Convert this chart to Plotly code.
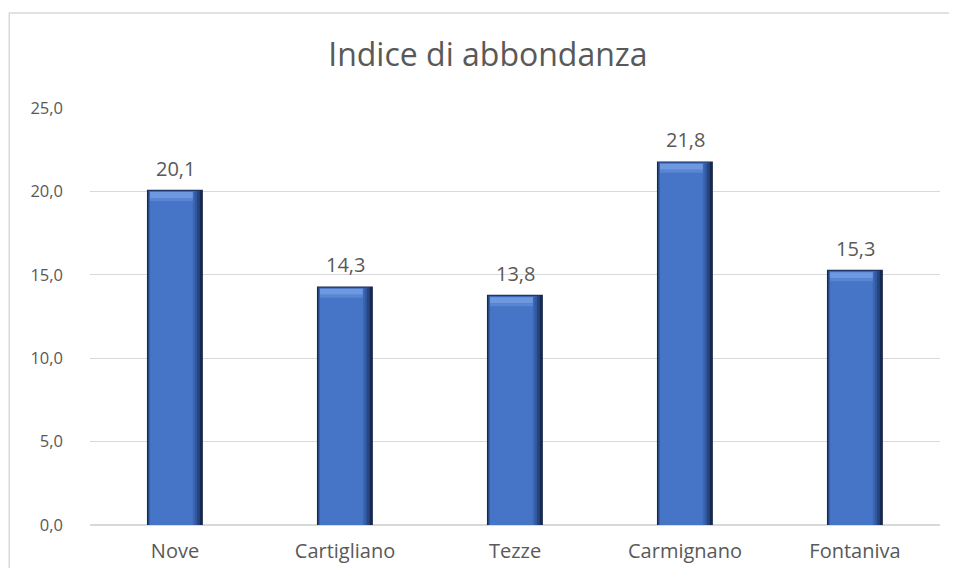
import plotly.graph_objects as go

categories = ["Nove", "Cartigliano", "Tezze", "Carmignano", "Fontaniva"]
values = [20.1, 14.3, 13.8, 21.8, 15.3]
y_ticks = [0, 5, 10, 15, 20, 25]

FONT = "Open Sans, sans-serif"
GRAY = "#595959"

fig = go.Figure()

# bevelled bar look built from overlaid layers (colour, left offset, width, top inset)
layers = [
    ("#18294f", -0.165, 0.329, 0.00),
    ("#27467f", -0.159, 0.305, 0.04),
    ("#3459a0", -0.153, 0.282, 0.07),
    ("#3d67b6", -0.150, 0.266, 0.09),
    ("#4674c6", -0.147, 0.252, 0.11),
]
for color, off, w, inset in layers:
    fig.add_trace(go.Bar(x=categories, y=[v - inset for v in values], width=w, offset=off,
                         marker=dict(color=color, line=dict(width=0)), hoverinfo="skip"))
# top highlight bevel
fig.add_trace(go.Bar(x=categories, y=[0.36] * len(values), base=[v - 0.5 for v in values],
                     width=0.252, offset=-0.147,
                     marker=dict(color="#6e98e0", line=dict(width=0)), hoverinfo="skip"))
fig.add_trace(go.Bar(x=categories, y=[0.18] * len(values), base=[v - 0.68 for v in values],
                     width=0.252, offset=-0.147,
                     marker=dict(color="#5a85d3", line=dict(width=0)), hoverinfo="skip"))

annotations = [
    dict(x=c, y=v, text=f"{v:.1f}".replace(".", ","), showarrow=False,
         yanchor="bottom", xanchor="center", yshift=6,
         font=dict(family=FONT, size=20, color=GRAY))
    for c, v in zip(categories, values)
]

H = 560
fig.update_layout(
    width=941, height=H,
    barmode="overlay",
    showlegend=False,
    separators=",.",
    paper_bgcolor="white", plot_bgcolor="white",
    margin=dict(l=82, r=9, t=100, b=H - 517, autoexpand=False),
    title=dict(text="Indice di abbondanza", x=0.51, xanchor="center", y=1 - 47 / H, yanchor="middle",
               xref="container",
               font=dict(family=FONT, size=32, color=GRAY)),
    font=dict(family=FONT, color=GRAY),
    xaxis=dict(showgrid=False, showline=True, linecolor="#d9d9d9", linewidth=1,
               tickfont=dict(family=FONT, size=20, color=GRAY), ticks="",
               ticklabelstandoff=8, automargin=False),
    yaxis=dict(range=[0, 25], tickvals=y_ticks, tickformat=".1f",
               showgrid=True, gridcolor="#d9d9d9", gridwidth=1,
               zeroline=True, zerolinecolor="#d9d9d9",
               tickfont=dict(family=FONT, size=16.5, color=GRAY), ticks="",
               ticklabelstandoff=26, automargin=False),
    annotations=annotations,
    shapes=[dict(type="rect", xref="paper", yref="paper",
                 x0=-0.095, x1=1.3, y0=-0.3, y1=1.228,
                 line=dict(color="#d9d9d9", width=1.5), fillcolor="rgba(0,0,0,0)", layer="below")],
)

fig.write_html("out.html")
